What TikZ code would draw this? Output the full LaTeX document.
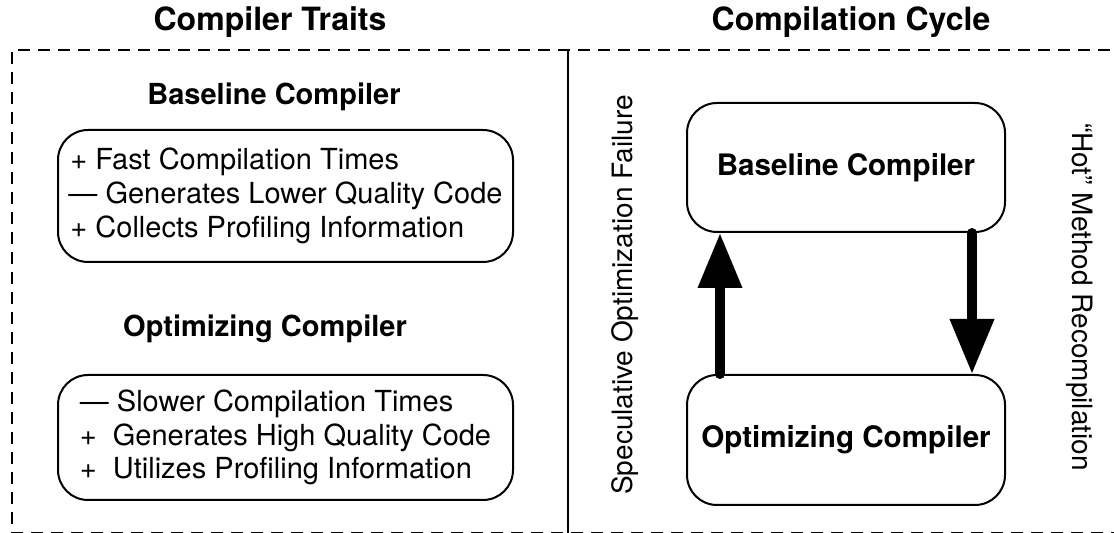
\documentclass[tikz,border=0pt]{standalone}
\usepackage{fontspec}
\setmainfont{TeX Gyre Heros}
\usetikzlibrary{arrows.meta}

\begin{document}
\begin{tikzpicture}[x=0.5pt, y=-0.5pt,
		box/.style = {draw, line width=1pt, rounded corners=15pt, inner xsep=2pt},
		txt/.style = {font=\fontsize{14.5}{16.9}\selectfont},
		side/.style = {font=\fontsize{14}{17}\selectfont},
		head/.style = {font=\fontsize{14.5}{17}\selectfont\bfseries},
		title/.style = {font=\fontsize{16}{19}\selectfont\bfseries},
		cycle/.style = {line width=5pt, line cap=round, -{Triangle[length=27.5pt, width=21pt]}}]
		\useasboundingbox (0,0) rectangle (1114,533);

		% frame and divider
		\draw[line width=1pt, dash pattern=on 6pt off 4pt] (1130,50) -- (12,50) -- (12,533) -- (1130,533);
		\draw[line width=1pt] (568,50) -- (568,533);

		\node [title] (traits) at (270,22) {Compiler Traits};
		\node [title] (cycletitle) at (851,22) {Compilation Cycle};

		% left half
		\node [head] (basehead) at (274,97) {Baseline Compiler};
		\node [box, txt, align=left, minimum width=227.5pt, minimum height=66pt] (basetraits) at (285.5,196)
			{\hspace*{1pt}+ Fast Compilation Times\\— Generates Lower Quality Code\\\hspace*{1pt}+ Collects Profiling Information};
		\node [head] (opthead) at (265,329) {Optimizing Compiler};
		\node [box, txt, align=left, minimum width=227.5pt, minimum height=62.5pt] (opttraits) at (285.5,437.5)
			{— Slower Compilation Times\\+\ \ Generates High Quality Code\\+\ \ Utilizes Profiling Information};

		% right half
		\node [box, head, font=\fontsize{14.8}{17}\selectfont\bfseries, minimum width=159pt, minimum height=64.5pt] (basecyc) at (846,167.5) {Baseline Compiler};
		\node [box, head, font=\fontsize{14.8}{17}\selectfont\bfseries, minimum width=159pt, minimum height=65pt] (optcyc) at (846,440) {Optimizing Compiler};
		\coordinate (upx) at (720,0);
		\coordinate (downx) at (972,0);
		\draw [cycle] (optcyc.north -| upx) -- (basecyc.south -| upx);
		\draw [cycle] (basecyc.south -| downx) -- (optcyc.north -| downx);

		\node [side, rotate=90] (specfail) at (625,295) {Speculative Optimization Failure};
		\node [side, rotate=-90] (hotrecomp) at (1080,297) {``Hot'' Method Recompilation};
	\end{tikzpicture}
\end{document}
